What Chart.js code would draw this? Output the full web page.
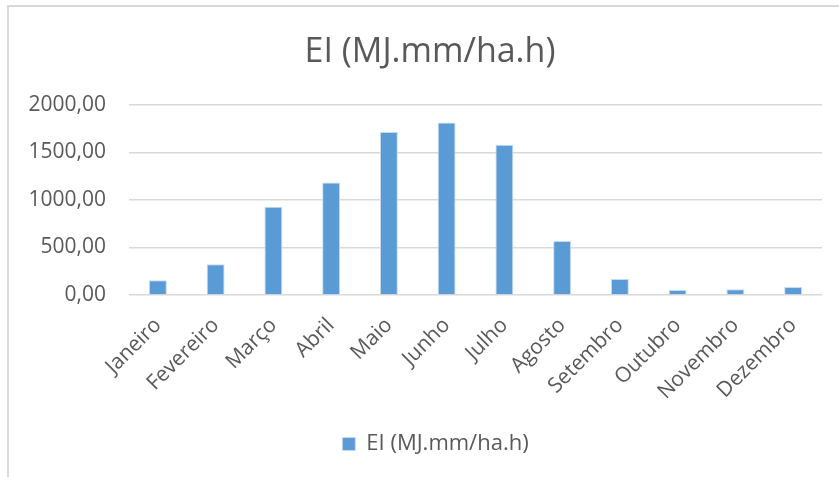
<!DOCTYPE html>
<html>
<head>
<meta charset="utf-8">
<script src="https://cdn.jsdelivr.net/npm/chart.js@4/dist/chart.umd.min.js"></script>
<style>
  html, body { margin: 0; padding: 0; background: #ffffff; overflow: hidden; }
  #frame { position: absolute; left: 7px; top: 5px; width: 900px; height: 600px; border: 2px solid #d9d9d9; box-sizing: border-box; }
  #wrap { position: absolute; left: 0; top: 0; width: 839px; height: 477px; }
</style>
</head>
<body>
<div id="frame"></div>
<div id="wrap"><canvas id="c" width="839" height="477"></canvas></div>
<script>
const categories = ["Janeiro", "Fevereiro", "Março", "Abril", "Maio", "Junho", "Julho", "Agosto", "Setembro", "Outubro", "Novembro", "Dezembro"];
const eiValues = [155, 324, 929, 1183, 1714, 1813, 1580, 567, 169, 53, 60, 84];
const seriesName = "EI (MJ.mm/ha.h)";
const yTicks = [0, 500, 1000, 1500, 2000];

const FONT = "'Open Sans', 'DejaVu Sans', sans-serif";
const TXT = "#595959";

// shift title and legend centres to match the Excel layout
const shiftBoxes = {
  id: 'shiftBoxes',
  afterLayout(chart) {
    if (chart.titleBlock) chart.titleBlock.left += 38;
    if (chart.legend) chart.legend.left += 49;
  }
};

new Chart(document.getElementById('c'), {
  type: 'bar',
  data: {
    labels: categories,
    datasets: [{
      label: seriesName,
      data: eiValues,
      backgroundColor: '#5b9bd5',
      borderColor: '#c5daf0',
      borderWidth: 1,
      categoryPercentage: 1,
      barPercentage: 0.31
    }]
  },
  plugins: [shiftBoxes],
  options: {
    responsive: false,
    animation: false,
    devicePixelRatio: 1,
    layout: { padding: { left: 0, right: 17, top: 32, bottom: 12 } },
    plugins: {
      title: {
        display: true,
        text: seriesName,
        color: TXT,
        font: { family: FONT, size: 34, weight: 'normal' },
        padding: { top: 0, bottom: 32 }
      },
      legend: {
        position: 'bottom',
        labels: {
          color: TXT,
          font: { family: FONT, size: 22 },
          boxWidth: 13,
          boxHeight: 13,
          padding: 10
        }
      },
      tooltip: { enabled: false }
    },
    scales: {
      x: {
        afterFit: (s) => { s.height = 128; },
        grid: { display: false, drawTicks: false },
        border: { display: false },
        ticks: {
          color: TXT,
          font: { family: FONT, size: 21 },
          minRotation: 45,
          maxRotation: 45,
          autoSkip: false,
          padding: 18
        }
      },
      y: {
        min: 0,
        max: 2000,
        afterBuildTicks: (s) => { s.ticks = yTicks.map(v => ({ value: v })); },
        afterFit: (s) => { s.width = 129; },
        grid: { color: '#d9d9d9', lineWidth: 1.5, drawTicks: false },
        border: { display: false },
        ticks: {
          color: TXT,
          font: { family: FONT, size: 21 },
          padding: 23,
          callback: (v) => Number(v).toFixed(2).replace('.', ',')
        }
      }
    }
  }
});
</script>
</body>
</html>
